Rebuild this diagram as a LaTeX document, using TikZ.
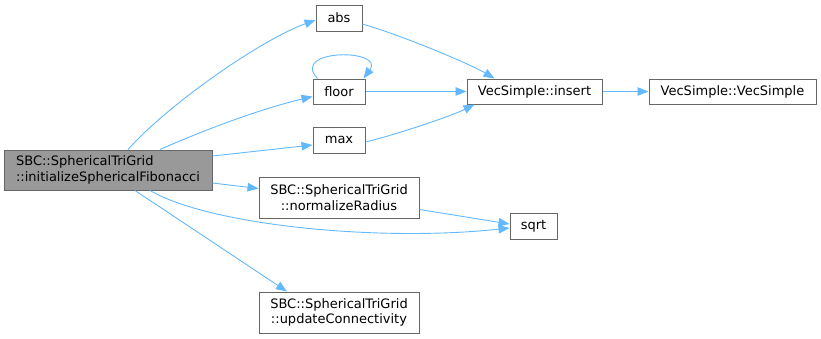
\documentclass[tikz,border=0pt]{standalone}
\usepackage{fontspec}
\setmainfont{DejaVu Sans}
\usetikzlibrary{arrows.meta}
\definecolor{edgeblue}{HTML}{63B8FF}
\definecolor{boxborder}{HTML}{666666}
\definecolor{mainfill}{HTML}{999999}
\begin{document}
\begin{tikzpicture}[x=1pt,y=-1pt,
  box/.style={draw=boxborder,line width=1pt,fill=white,inner sep=0pt,
    font=\fontsize{13}{15.5}\selectfont,align=center},
  edge/.style={draw=edgeblue,line width=0.9pt,-{Triangle[length=11pt,width=8.5pt]}}]
\useasboundingbox (0,0) rectangle (821,338);
\node[box,fill=mainfill,minimum width=208pt,minimum height=40pt,align=left] (main) at (108,170) {SBC::SphericalTriGrid\\::initializeSphericalFibonacci};
\node[box,minimum width=46pt,minimum height=26pt] (abs) at (339,18) {abs};
\node[box,minimum width=52pt,minimum height=25pt] (floor) at (339,91.5) {floor};
\node[box,minimum width=52pt,minimum height=26pt] (max) at (339,140) {max};
\node[box,minimum width=135pt,minimum height=25pt] (insert) at (534.5,91.5) {VecSimple::insert};
\node[box,minimum width=167pt,minimum height=25pt] (vs) at (732.5,91.5) {VecSimple::VecSimple};
\node[box,minimum width=160pt,minimum height=41pt] (norm) at (339,197.5) {SBC::SphericalTriGrid\\::normalizeRadius};
\node[box,minimum width=47pt,minimum height=26pt] (sqrt) at (533.5,226) {sqrt};
\node[box,minimum width=160pt,minimum height=41pt] (upd) at (339,312.5) {SBC::SphericalTriGrid\\::updateConnectivity};

\draw[edge] ([xshift=20pt]main.north) .. controls +(40,-45) and +(-55,20) .. ([yshift=-2pt]abs.west);
\draw[edge] ([xshift=52pt]main.north) .. controls +(50,-22) and +(-50,12) .. ([yshift=-5pt]floor.west);
\draw[edge] ([yshift=14pt]main.east) -- ([yshift=-5pt]max.west);
\draw[edge] ([yshift=-13pt]main.east) -- ([yshift=9pt]norm.west);
\draw[edge] ([xshift=42pt]main.south) .. controls +(60,35) and +(-130,14) .. ([yshift=-2pt]sqrt.west);
\draw[edge] ([xshift=27pt]main.south) -- ([xshift=-52pt]upd.north);
\draw[edge] ([xshift=5pt]floor.north west) .. controls +(-28,-30) and +(22,-30) .. ([xshift=-2pt]floor.north east);
\draw[edge] ([yshift=-6pt]abs.east) .. controls +(50,15) and +(-20,-12) .. ([xshift=-40pt]insert.north);
\draw[edge] (floor.east) -- (insert.west);
\draw[edge] ([yshift=-2pt]max.east) .. controls +(40,-10) and +(-20,10) .. ([xshift=-60pt]insert.south);
\draw[edge] (insert.east) -- (vs.west);
\draw[edge] ([yshift=-12pt]norm.east) -- ([yshift=2pt]sqrt.west);
\end{tikzpicture}
\end{document}
